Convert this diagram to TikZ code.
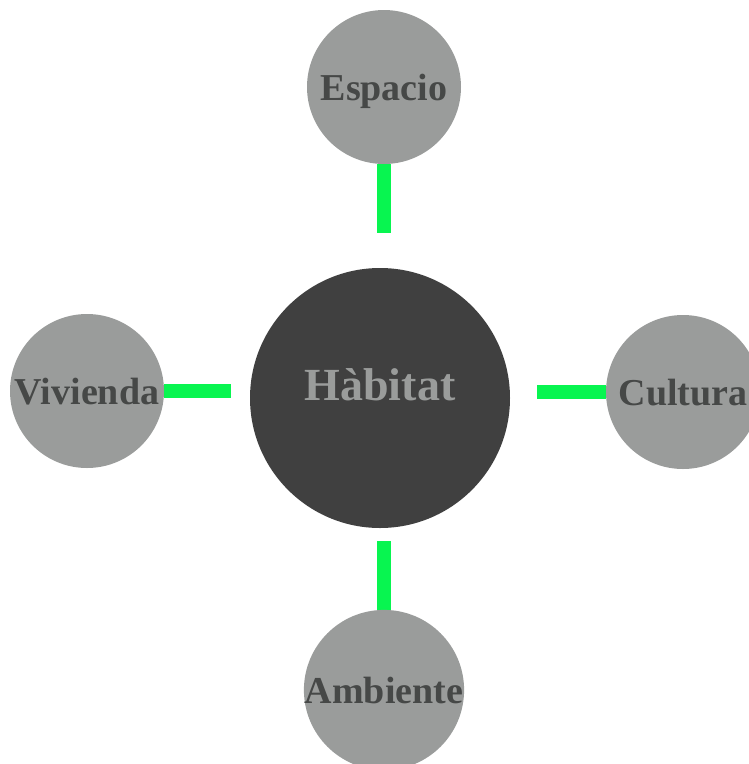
\documentclass[tikz,border=0pt]{standalone}
\usepackage{fontspec}
\setmainfont{Liberation Serif}
\usetikzlibrary{backgrounds}
\definecolor{satgray}{RGB}{154,156,155}
\definecolor{labgray}{RGB}{70,72,71}
\definecolor{coregray}{RGB}{64,64,64}
\definecolor{linkgreen}{RGB}{8,245,80}
\tikzset{
  sat/.style={circle,fill=satgray,text=labgray,minimum size=154pt,inner sep=0pt,
    text height=26pt,text depth=0pt,font=\fontsize{38}{40}\selectfont\bfseries},
  core/.style={circle,fill=coregray,text=satgray,minimum size=260pt,inner sep=0pt,
    text depth=26pt,font=\fontsize{46}{48}\selectfont\bfseries},
  link/.style={linkgreen,line width=14pt}
}
\begin{document}
\begin{tikzpicture}[x=1pt,y=-1pt]
\useasboundingbox (0,0) rectangle (748,764);
\node[core] (hab) at (380,398) {Hàbitat};
\node[sat] (esp) at (384,87) {Espacio};
\node[sat] (viv) at (87,391) {Vivienda};
\node[sat] (cul) at (683,392) {Cultura};
\node[sat] (amb) at (384,690) {Ambiente};
% green links
\begin{pgfonlayer}{background}
\draw[link,shorten >=35pt] (esp.south) -- (esp.south |- hab.north);
\draw[link,shorten >=19pt] (viv.east) -- (viv.east -| hab.west);
\draw[link,shorten >=27pt] (cul.west) -- (cul.west -| hab.east);
\draw[link,shorten >=13pt] (amb.north) -- (amb.north |- hab.south);
\end{pgfonlayer}
\end{tikzpicture}
\end{document}
